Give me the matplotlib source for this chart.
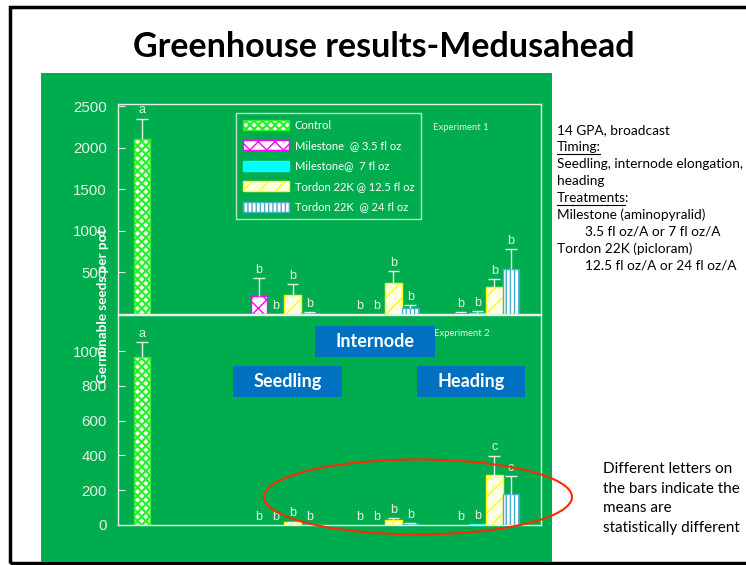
import matplotlib
matplotlib.use('Agg')
import matplotlib.pyplot as plt
from matplotlib.patches import Rectangle, Ellipse, Patch
from matplotlib.lines import Line2D
import numpy as np

plt.rcParams['hatch.linewidth'] = 1.0

# ---------------- data ----------------
title = "Greenhouse results-Medusahead"
timings = ["Seedling", "Internode", "Heading"]
control_label = "Control"
treatments = ["Milestone  @ 3.5 fl oz", "Milestone@  7 fl oz",
              "Tordon 22K @ 12.5 fl oz", "Tordon 22K  @ 24 fl oz"]
ylabel = "Germinable seeds per pot"

exp1_control = 2100
exp1_control_err = 250
exp1_means = [[215, 3, 232, 15], [5, 0, 368, 72], [18, 15, 324, 540]]
exp1_err = [[215, 0, 130, 10], [0, 0, 145, 40], [10, 25, 100, 240]]
exp1_control_letter = "a"
exp1_letters = [["b", "b", "b", "b"], ["b", "b", "b", "b"], ["b", "b", "b", "b"]]
exp1_ticks = [500, 1000, 1500, 2000, 2500]

exp2_control = 965
exp2_control_err = 85
exp2_means = [[0, 0, 15, 2], [0, 0, 27, 8], [0, 3, 289, 176]]
exp2_err = [[0, 0, 5, 0], [0, 0, 11, 5], [0, 0, 110, 105]]
exp2_control_letter = "a"
exp2_letters = [["b", "b", "b", "b"], ["b", "b", "b", "b"], ["b", "b", "c", "c"]]
exp2_ticks = [0, 200, 400, 600, 800, 1000]

# (underlined part, rest)
side_lines = [("", "14 GPA, broadcast"), ("Timing:", ""),
              ("", "Seedling, internode elongation,"), ("", "heading"),
              ("Treatments", ":"), ("", "Milestone (aminopyralid)"),
              ("", "        3.5 fl oz/A or 7 fl oz/A"), ("", "Tordon 22K (picloram)"),
              ("", "        12.5 fl oz/A or 24 fl oz/A")]
note_lines = ["Different letters on", "the bars indicate the", "means are",
              "statistically different"]

# ---------------- styles ----------------
GREEN = '#00ad4e'
LIGHT = '#e6f2e6'
ctrl_style = dict(facecolor='white', edgecolor='#2cf02c', hatch='xxxx')
trt_styles = [
    dict(facecolor='white', edgecolor='#ff00ff', hatch='xx'),
    dict(facecolor='#00ffff', edgecolor='#00ffff', hatch=None),
    dict(facecolor='#ffffe8', edgecolor='#ffff00', hatch='//'),
    dict(facecolor='white', edgecolor='#4bacc6', hatch='||||'),
]
SANS = ['Liberation Sans', 'DejaVu Sans']
CAL = ['Lato', 'DejaVu Sans']

W, H = 746, 565
fig = plt.figure(figsize=(W / 100, H / 100), dpi=100)
fig.patch.set_facecolor('white')

def fx(px):
    return px / W

def fy(py):
    return 1 - py / H

def thick_hatch(artists, lw):
    for a in artists:
        try:
            a.set_hatch_linewidth(lw)
        except Exception:
            pass

# slide frame
fig.add_artist(Rectangle((fx(10), fy(563)), fx(800), fy(7) - fy(563),
                         transform=fig.transFigure, facecolor='none', edgecolor='black',
                         lw=2.5, zorder=-3))
# green panel
fig.add_artist(Rectangle((fx(41), fy(562)), fx(552) - fx(41), fy(73) - fy(562),
                         transform=fig.transFigure, facecolor=GREEN, edgecolor='none', zorder=-2))

fig.text(fx(384), fy(47), title, ha='center', va='center', fontsize=24.5,
         fontweight='bold', family=CAL, color='black')

# axes
ax1 = fig.add_axes([fx(118), fy(314), fx(541) - fx(118), fy(104) - fy(314)])
ax2 = fig.add_axes([fx(118), fy(525), fx(541) - fx(118), fy(315) - fy(525)])

slot = 16.8
xmax = (541 - 118) / slot
ctrl_x = (142 - 118) / slot
grp0 = (259 - 118) / slot
gap = 6.0
bw = 1.0

def draw(ax, ctrl, ctrl_err, ctrl_letter, means, errs, letters, ticks, ylim, exp_label, exp_y):
    ax.patch.set_visible(False)
    ax.set_xlim(0, xmax)
    ax.set_ylim(0, ylim)
    for s in ax.spines.values():
        s.set_color(LIGHT)
        s.set_linewidth(1.0)
    ax.set_xticks([])
    ax.set_yticks(ticks)
    ax.set_yticklabels([str(t) for t in ticks])
    ax.tick_params(axis='y', direction='in', length=5, color=LIGHT, labelcolor=LIGHT,
                   labelsize=10.8, pad=8)
    for lab in ax.get_yticklabels():
        lab.set_family(SANS)
    cb = ax.bar([ctrl_x], [ctrl], width=bw, lw=1.0, zorder=2, **ctrl_style)
    thick_hatch(cb, 1.6)
    xs_all, tops_all, errs_all, lets_all = [ctrl_x], [ctrl], [ctrl_err], [ctrl_letter]
    for g in range(len(means)):
        for i in range(len(means[g])):
            x = grp0 + g * gap + i
            st = trt_styles[i]
            if means[g][i] > 0:
                ax.bar([x], [means[g][i]], width=bw, lw=1.0, zorder=2, **st)
            xs_all.append(x)
            tops_all.append(means[g][i])
            errs_all.append(errs[g][i])
            lets_all.append(letters[g][i])
    xs_all = np.array(xs_all)
    tops_all = np.array(tops_all, dtype=float)
    errs_all = np.array(errs_all, dtype=float)
    m = errs_all > 0
    ax.vlines(xs_all[m], tops_all[m], tops_all[m] + errs_all[m], color=LIGHT, lw=1, zorder=3)
    ax.hlines(tops_all[m] + errs_all[m], xs_all[m] - 0.35, xs_all[m] + 0.35, color=LIGHT, lw=1, zorder=3)
    for x, t, e, l in zip(xs_all, tops_all, errs_all, lets_all):
        ax.annotate(l, xy=(x, t + e), xytext=(0, 1.5), textcoords='offset points',
                    ha='center', va='bottom', fontsize=9, color=LIGHT, family=SANS, zorder=4)
    ax.text(exp_label[0], exp_y, exp_label[1], transform=ax.transAxes, ha='center', va='center',
            fontsize=6.8, color=LIGHT, family=CAL)

draw(ax1, exp1_control, exp1_control_err, exp1_control_letter, exp1_means, exp1_err,
     exp1_letters, exp1_ticks, 2525, ((461 - 118) / 423, "Experiment 1"), (314 - 128) / 210)
draw(ax2, exp2_control, exp2_control_err, exp2_control_letter, exp2_means, exp2_err,
     exp2_letters, exp2_ticks, 1207, ((462 - 118) / 423, "Experiment 2"), (525 - 334) / 210)

fig.text(fx(103), fy(306), ylabel, rotation=90, ha='center', va='center', fontsize=9.7,
         fontweight='bold', family=CAL, color='white', zorder=5)

# legend
handles = [Patch(**ctrl_style, lw=1.0, label=control_label)]
for st, lab in zip(trt_styles, treatments):
    handles.append(Patch(**st, lw=1.0, label=lab))
thick_hatch(handles[:1], 1.6)
leg = fig.legend(handles=handles, loc='upper left', bbox_to_anchor=(fx(236), fy(113)),
                 frameon=True, fancybox=False, edgecolor=LIGHT, facecolor='none',
                 prop={'family': CAL, 'size': 8}, handlelength=4.2, handleheight=1.0,
                 labelspacing=0.85, borderpad=0.6, handletextpad=0.5, borderaxespad=0)
leg.get_frame().set_linewidth(1.0)
for t in leg.get_texts():
    t.set_color('white')
thick_hatch(leg.legend_handles[:1], 1.6)

# timing boxes
boxes = [(233, 366, 342, 397), (315, 326, 435, 357), (417, 366, 525, 397)]
for (x0, y0, x1, y1), name in zip(boxes, timings):
    fig.add_artist(Rectangle((fx(x0), fy(y1)), fx(x1) - fx(x0), fy(y0) - fy(y1),
                             transform=fig.transFigure, facecolor='#0070c0', edgecolor='none', zorder=5))
    fig.text((fx(x0) + fx(x1)) / 2, (fy(y0) + fy(y1)) / 2, name, ha='center', va='center',
             fontsize=13, fontweight='bold', family=CAL, color='white', zorder=6)

# red ellipse
fig.add_artist(Ellipse((fx(418), fy(497)), fx(308), 75 / H, transform=fig.transFigure,
                       facecolor='none', edgecolor='#ff2a00', lw=1.5, zorder=7))

# side text
fig.canvas.draw()
renderer = fig.canvas.get_renderer()
y = 130
for ul, rest in side_lines:
    x = fx(557)
    if ul:
        t = fig.text(x, fy(y), ul, ha='left', va='center', fontsize=9.8, family=CAL, color='black')
        bb = t.get_window_extent(renderer)
        fig.add_artist(Line2D([bb.x0 / W, (bb.x1 - 1) / W], [fy(y + 7), fy(y + 7)],
                              transform=fig.transFigure, color='black', lw=0.8))
        x = (bb.x1 - 1.5) / W
    if rest:
        fig.text(x, fy(y), rest, ha='left', va='center', fontsize=9.8, family=CAL, color='black')
    y += 17
for i, line in enumerate(note_lines):
    fig.text(fx(603), fy(469 + i * 19.7), line, ha='left', va='center', fontsize=11,
             family=CAL, color='black')

fig.savefig('out.png', dpi=100)
